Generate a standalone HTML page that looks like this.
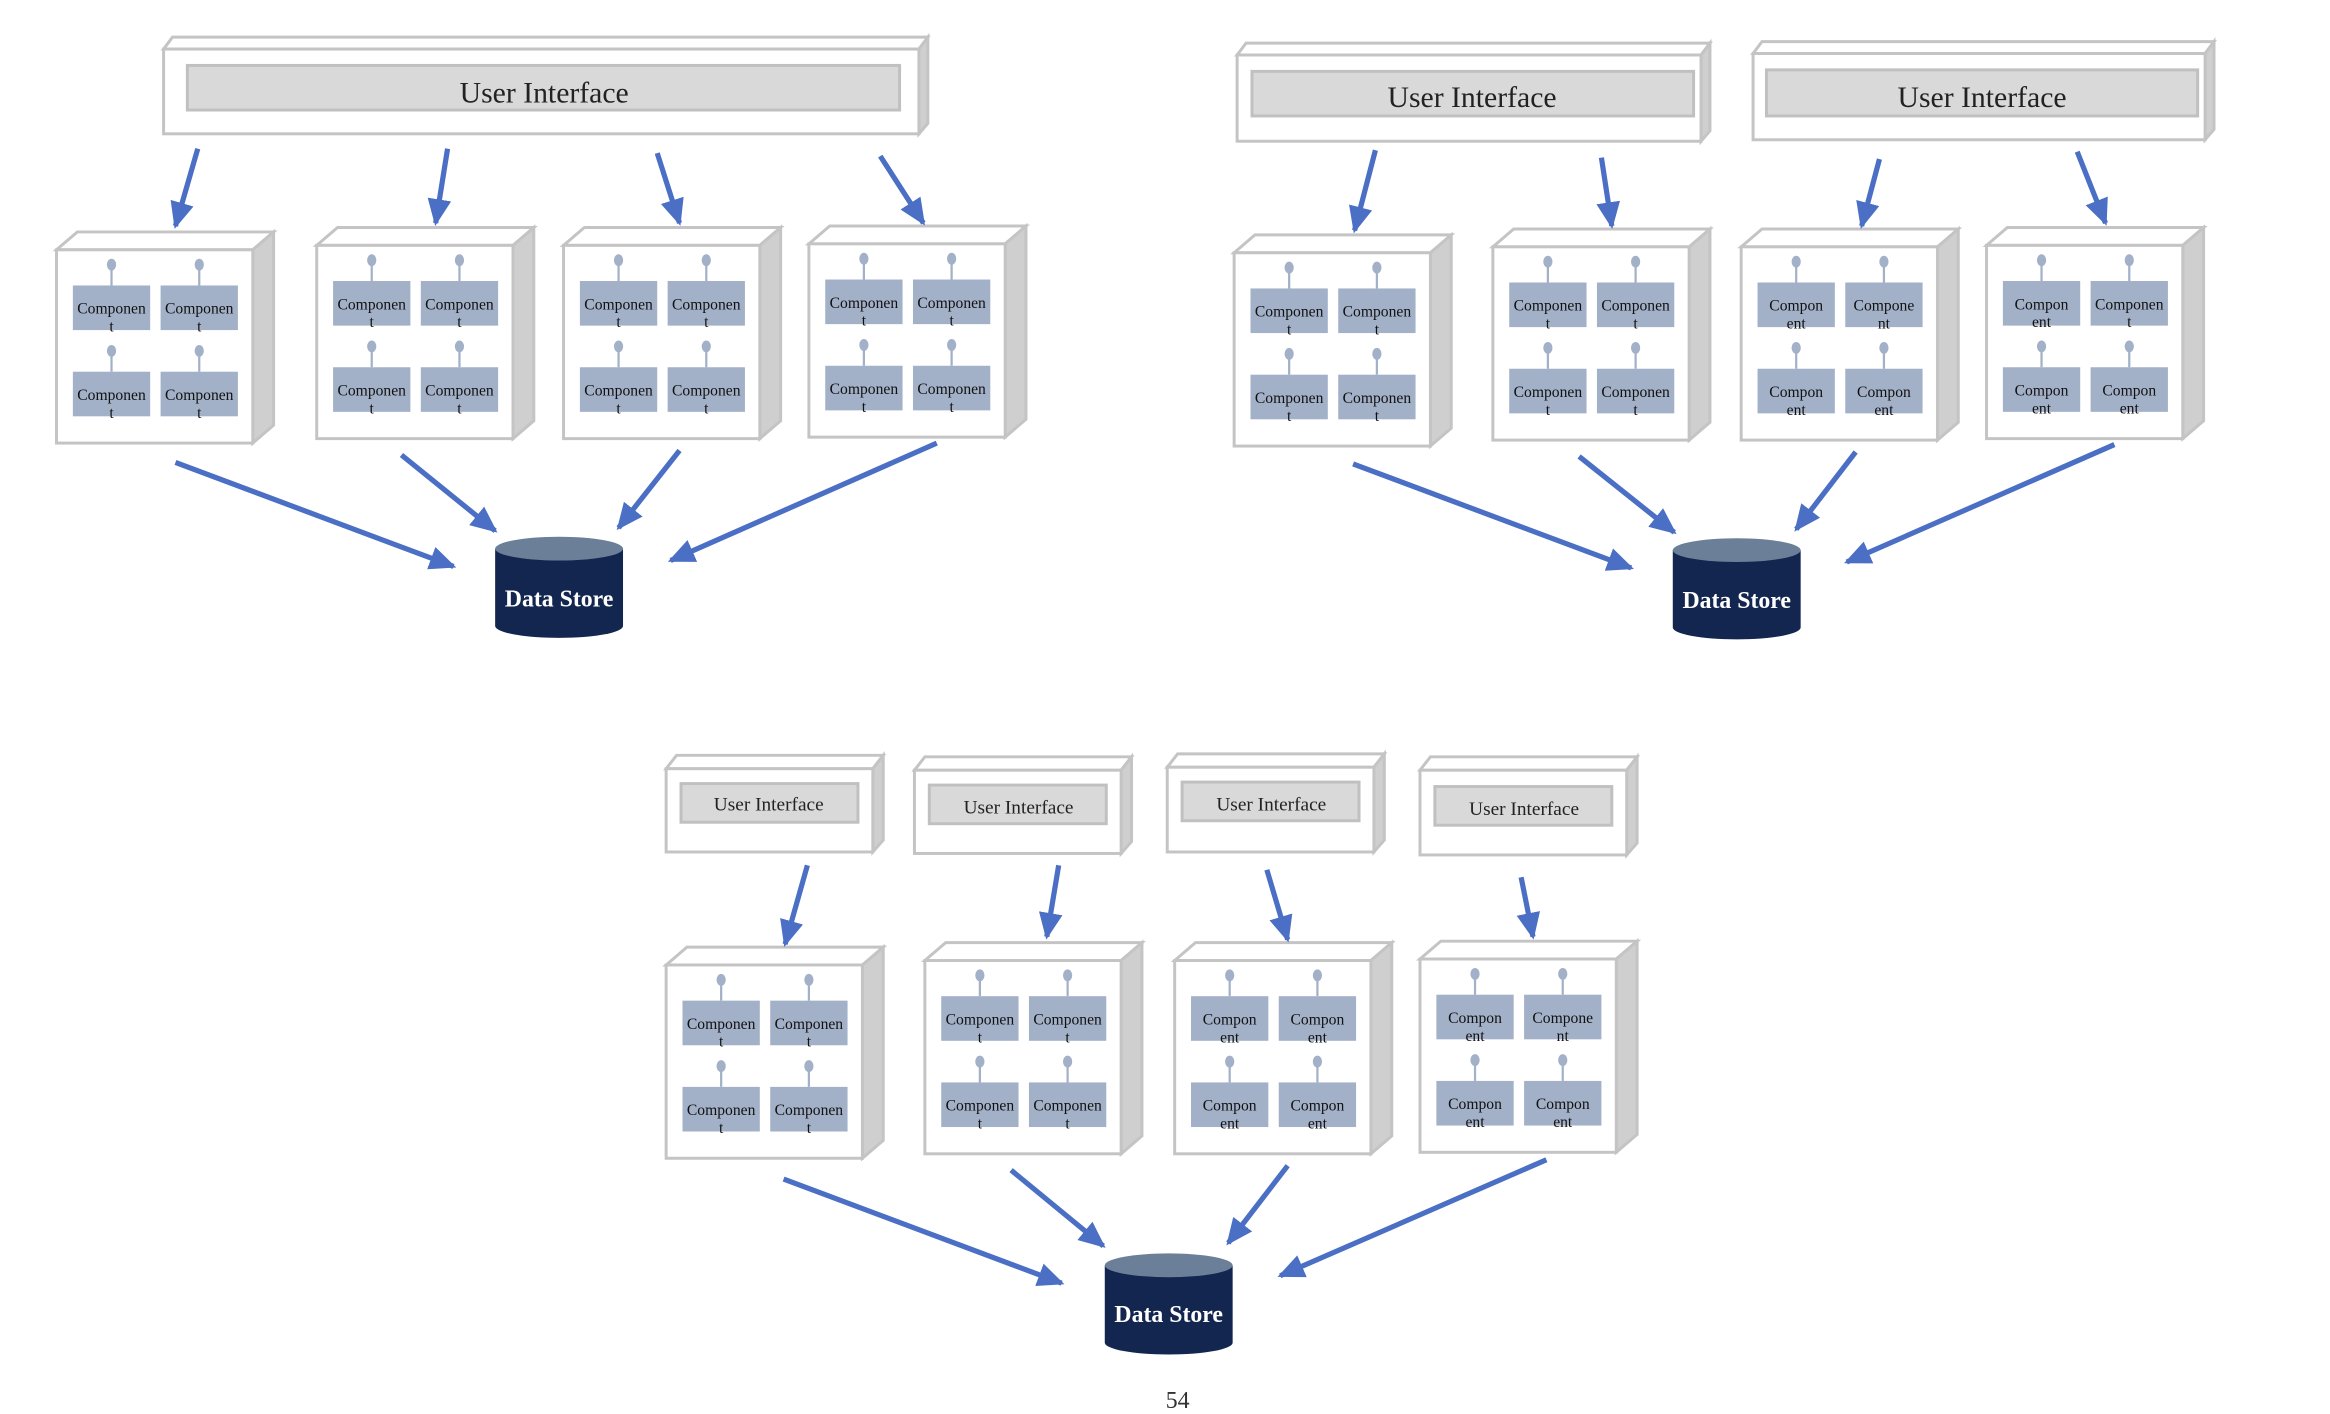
<!DOCTYPE html>
<html><head><meta charset="utf-8"><style>
html,body{margin:0;padding:0;background:#fff;width:2330px;height:1414px;overflow:hidden}
svg{display:block}
.c{font-family:"Liberation Serif",serif;font-size:10.5px;fill:#111;text-anchor:middle}
.ui{font-family:"Liberation Serif",serif;fill:#222;text-anchor:middle}
.ds{font-family:"Liberation Serif",serif;font-size:16px;font-weight:bold;fill:#fff;text-anchor:middle}
.ar{stroke:#4a6fc4;stroke-width:3.5;fill:none}
</style></head><body>
<svg width="2330" height="1414" viewBox="0 0 1567 951" preserveAspectRatio="none">
<defs>
<marker id="ah" markerUnits="userSpaceOnUse" markerWidth="20" markerHeight="18" refX="16" refY="8" orient="auto">
<path d="M0,0 L18,8 L0,16 Z" fill="#4a6fc4"/></marker>
<g id="box">
<polygon points="0,0 14,-12 146,-12 132,0" fill="#fff" stroke="#c4c4c4" stroke-width="2"/>
<polygon points="132,0 146,-12 146,118 132,130" fill="#cfcfcf" stroke="#c4c4c4" stroke-width="2"/>
<rect x="0" y="0" width="132" height="130" fill="#fff" stroke="#c4c4c4" stroke-width="2"/>
<g fill="#a3b1c8" stroke="#a3b1c8">
<rect x="11" y="24" width="52" height="30" stroke="none"/><rect x="70" y="24" width="52" height="30" stroke="none"/>
<rect x="11" y="82" width="52" height="30" stroke="none"/><rect x="70" y="82" width="52" height="30" stroke="none"/>
<line x1="37" y1="24" x2="37" y2="11" stroke-width="1.5"/><ellipse cx="37" cy="10" rx="2.6" ry="3.5"/>
<line x1="96" y1="24" x2="96" y2="11" stroke-width="1.5"/><ellipse cx="96" cy="10" rx="2.6" ry="3.5"/>
<line x1="37" y1="82" x2="37" y2="69" stroke-width="1.5"/><ellipse cx="37" cy="68" rx="2.6" ry="3.5"/>
<line x1="96" y1="82" x2="96" y2="69" stroke-width="1.5"/><ellipse cx="96" cy="68" rx="2.6" ry="3.5"/>
</g></g>
<g id="cyl">
<path d="M0,8 L0,60 A43,8 0 0 0 86,60 L86,8 Z" fill="#13264f"/>
<ellipse cx="43" cy="8" rx="43" ry="8" fill="#6b7f99"/>
</g>
</defs>

<!-- Diagram 1 -->
<polygon points="110,33 116,25 624,25 618,33" fill="#fff" stroke="#c4c4c4" stroke-width="2"/>
<polygon points="618,33 624,25 624,83 618,90" fill="#cfcfcf" stroke="#c4c4c4" stroke-width="2"/>
<rect x="110" y="33" width="508" height="57" fill="#fff" stroke="#c4c4c4" stroke-width="2"/>
<rect x="126" y="44" width="479" height="30" fill="#d9d9d9" stroke="#c0c0c0" stroke-width="2"/>
<text class="ui" x="366" y="69" font-size="20">User Interface</text>

<g transform="translate(38,168)"><use href="#box"/>
<text class="c" x="37" y="43">Componen</text><text class="c" x="37" y="55">t</text>
<text class="c" x="96" y="43">Componen</text><text class="c" x="96" y="55">t</text>
<text class="c" x="37" y="101">Componen</text><text class="c" x="37" y="113">t</text>
<text class="c" x="96" y="101">Componen</text><text class="c" x="96" y="113">t</text></g>
<g transform="translate(213,165)"><use href="#box"/>
<text class="c" x="37" y="43">Componen</text><text class="c" x="37" y="55">t</text>
<text class="c" x="96" y="43">Componen</text><text class="c" x="96" y="55">t</text>
<text class="c" x="37" y="101">Componen</text><text class="c" x="37" y="113">t</text>
<text class="c" x="96" y="101">Componen</text><text class="c" x="96" y="113">t</text></g>
<g transform="translate(379,165)"><use href="#box"/>
<text class="c" x="37" y="43">Componen</text><text class="c" x="37" y="55">t</text>
<text class="c" x="96" y="43">Componen</text><text class="c" x="96" y="55">t</text>
<text class="c" x="37" y="101">Componen</text><text class="c" x="37" y="113">t</text>
<text class="c" x="96" y="101">Componen</text><text class="c" x="96" y="113">t</text></g>
<g transform="translate(544,164)"><use href="#box"/>
<text class="c" x="37" y="43">Componen</text><text class="c" x="37" y="55">t</text>
<text class="c" x="96" y="43">Componen</text><text class="c" x="96" y="55">t</text>
<text class="c" x="37" y="101">Componen</text><text class="c" x="37" y="113">t</text>
<text class="c" x="96" y="101">Componen</text><text class="c" x="96" y="113">t</text></g>

<g transform="translate(333,361)"><use href="#cyl"/></g>
<text class="ds" x="376" y="408">Data Store</text>

<g class="ar" marker-end="url(#ah)">
<line x1="133" y1="100" x2="118" y2="152"/><line x1="301" y1="100" x2="293" y2="150"/>
<line x1="442" y1="103" x2="457" y2="150"/><line x1="592" y1="105" x2="621" y2="150"/>
<line x1="118" y1="311" x2="305" y2="381"/><line x1="270" y1="306" x2="333" y2="357"/>
<line x1="457" y1="303" x2="416" y2="355"/><line x1="630" y1="298" x2="451" y2="377"/>
</g>

<!-- Diagram 2 -->
<polygon points="832,37 838,29 1150,29 1144,37" fill="#fff" stroke="#c4c4c4" stroke-width="2"/>
<polygon points="1144,37 1150,29 1150,88 1144,95" fill="#cfcfcf" stroke="#c4c4c4" stroke-width="2"/>
<rect x="832" y="37" width="312" height="58" fill="#fff" stroke="#c4c4c4" stroke-width="2"/>
<rect x="842" y="48" width="297" height="30" fill="#d9d9d9" stroke="#c0c0c0" stroke-width="2"/>
<text class="ui" x="990" y="72" font-size="20">User Interface</text>
<polygon points="1179,36 1185,28 1489,28 1483,36" fill="#fff" stroke="#c4c4c4" stroke-width="2"/>
<polygon points="1483,36 1489,28 1489,87 1483,94" fill="#cfcfcf" stroke="#c4c4c4" stroke-width="2"/>
<rect x="1179" y="36" width="304" height="58" fill="#fff" stroke="#c4c4c4" stroke-width="2"/>
<rect x="1188" y="47" width="290" height="31" fill="#d9d9d9" stroke="#c0c0c0" stroke-width="2"/>
<text class="ui" x="1333" y="72" font-size="20">User Interface</text>

<g transform="translate(830,170)"><use href="#box"/>
<text class="c" x="37" y="43">Componen</text><text class="c" x="37" y="55">t</text>
<text class="c" x="96" y="43">Componen</text><text class="c" x="96" y="55">t</text>
<text class="c" x="37" y="101">Componen</text><text class="c" x="37" y="113">t</text>
<text class="c" x="96" y="101">Componen</text><text class="c" x="96" y="113">t</text></g>
<g transform="translate(1004,166)"><use href="#box"/>
<text class="c" x="37" y="43">Componen</text><text class="c" x="37" y="55">t</text>
<text class="c" x="96" y="43">Componen</text><text class="c" x="96" y="55">t</text>
<text class="c" x="37" y="101">Componen</text><text class="c" x="37" y="113">t</text>
<text class="c" x="96" y="101">Componen</text><text class="c" x="96" y="113">t</text></g>
<g transform="translate(1171,166)"><use href="#box"/>
<text class="c" x="37" y="43">Compon</text><text class="c" x="37" y="55">ent</text>
<text class="c" x="96" y="43">Compone</text><text class="c" x="96" y="55">nt</text>
<text class="c" x="37" y="101">Compon</text><text class="c" x="37" y="113">ent</text>
<text class="c" x="96" y="101">Compon</text><text class="c" x="96" y="113">ent</text></g>
<g transform="translate(1336,165)"><use href="#box"/>
<text class="c" x="37" y="43">Compon</text><text class="c" x="37" y="55">ent</text>
<text class="c" x="96" y="43">Componen</text><text class="c" x="96" y="55">t</text>
<text class="c" x="37" y="101">Compon</text><text class="c" x="37" y="113">ent</text>
<text class="c" x="96" y="101">Compon</text><text class="c" x="96" y="113">ent</text></g>

<g transform="translate(1125,362)"><use href="#cyl"/></g>
<text class="ds" x="1168" y="409">Data Store</text>

<g class="ar" marker-end="url(#ah)">
<line x1="925" y1="101" x2="911" y2="155"/><line x1="1077" y1="106" x2="1084" y2="152"/>
<line x1="1264" y1="107" x2="1252" y2="152"/><line x1="1397" y1="102" x2="1416" y2="150"/>
<line x1="910" y1="312" x2="1097" y2="382"/><line x1="1062" y1="307" x2="1126" y2="358"/>
<line x1="1248" y1="304" x2="1208" y2="356"/><line x1="1422" y1="299" x2="1242" y2="378"/>
</g>

<!-- Diagram 3 -->
<g>
<polygon points="448,517 455,508 594,508 587,517" fill="#fff" stroke="#c4c4c4" stroke-width="2"/>
<polygon points="587,517 594,508 594,565 587,573" fill="#cfcfcf" stroke="#c4c4c4" stroke-width="2"/>
<rect x="448" y="517" width="139" height="56" fill="#fff" stroke="#c4c4c4" stroke-width="2"/>
<rect x="458" y="527" width="119" height="26" fill="#d9d9d9" stroke="#c0c0c0" stroke-width="2"/>
<text class="ui" x="517" y="545" font-size="13">User Interface</text>

<polygon points="615,518 622,509 761,509 754,518" fill="#fff" stroke="#c4c4c4" stroke-width="2"/>
<polygon points="754,518 761,509 761,566 754,574" fill="#cfcfcf" stroke="#c4c4c4" stroke-width="2"/>
<rect x="615" y="518" width="139" height="56" fill="#fff" stroke="#c4c4c4" stroke-width="2"/>
<rect x="625" y="528" width="119" height="26" fill="#d9d9d9" stroke="#c0c0c0" stroke-width="2"/>
<text class="ui" x="685" y="547" font-size="13">User Interface</text>

<polygon points="785,516 792,507 931,507 924,516" fill="#fff" stroke="#c4c4c4" stroke-width="2"/>
<polygon points="924,516 931,507 931,565 924,573" fill="#cfcfcf" stroke="#c4c4c4" stroke-width="2"/>
<rect x="785" y="516" width="139" height="57" fill="#fff" stroke="#c4c4c4" stroke-width="2"/>
<rect x="795" y="526" width="119" height="26" fill="#d9d9d9" stroke="#c0c0c0" stroke-width="2"/>
<text class="ui" x="855" y="545" font-size="13">User Interface</text>

<polygon points="955,518 962,509 1101,509 1094,518" fill="#fff" stroke="#c4c4c4" stroke-width="2"/>
<polygon points="1094,518 1101,509 1101,567 1094,575" fill="#cfcfcf" stroke="#c4c4c4" stroke-width="2"/>
<rect x="955" y="518" width="139" height="57" fill="#fff" stroke="#c4c4c4" stroke-width="2"/>
<rect x="965" y="529" width="119" height="26" fill="#d9d9d9" stroke="#c0c0c0" stroke-width="2"/>
<text class="ui" x="1025" y="548" font-size="13">User Interface</text>
</g>

<g transform="translate(448,649)"><use href="#box"/>
<text class="c" x="37" y="43">Componen</text><text class="c" x="37" y="55">t</text>
<text class="c" x="96" y="43">Componen</text><text class="c" x="96" y="55">t</text>
<text class="c" x="37" y="101">Componen</text><text class="c" x="37" y="113">t</text>
<text class="c" x="96" y="101">Componen</text><text class="c" x="96" y="113">t</text></g>
<g transform="translate(622,646)"><use href="#box"/>
<text class="c" x="37" y="43">Componen</text><text class="c" x="37" y="55">t</text>
<text class="c" x="96" y="43">Componen</text><text class="c" x="96" y="55">t</text>
<text class="c" x="37" y="101">Componen</text><text class="c" x="37" y="113">t</text>
<text class="c" x="96" y="101">Componen</text><text class="c" x="96" y="113">t</text></g>
<g transform="translate(790,646)"><use href="#box"/>
<text class="c" x="37" y="43">Compon</text><text class="c" x="37" y="55">ent</text>
<text class="c" x="96" y="43">Compon</text><text class="c" x="96" y="55">ent</text>
<text class="c" x="37" y="101">Compon</text><text class="c" x="37" y="113">ent</text>
<text class="c" x="96" y="101">Compon</text><text class="c" x="96" y="113">ent</text></g>
<g transform="translate(955,645)"><use href="#box"/>
<text class="c" x="37" y="43">Compon</text><text class="c" x="37" y="55">ent</text>
<text class="c" x="96" y="43">Compone</text><text class="c" x="96" y="55">nt</text>
<text class="c" x="37" y="101">Compon</text><text class="c" x="37" y="113">ent</text>
<text class="c" x="96" y="101">Compon</text><text class="c" x="96" y="113">ent</text></g>

<g transform="translate(743,843)"><use href="#cyl"/></g>
<text class="ds" x="786" y="889">Data Store</text>

<g class="ar" marker-end="url(#ah)">
<line x1="543" y1="582" x2="528" y2="635"/><line x1="712" y1="582" x2="704" y2="630"/>
<line x1="852" y1="585" x2="866" y2="632"/><line x1="1023" y1="590" x2="1031" y2="630"/>
<line x1="527" y1="793" x2="714" y2="863"/><line x1="680" y1="787" x2="742" y2="838"/>
<line x1="866" y1="784" x2="826" y2="836"/><line x1="1040" y1="780" x2="861" y2="858"/>
</g>

<text x="792" y="947" font-family="Liberation Serif, serif" font-size="16" fill="#333" text-anchor="middle">54</text>
</svg>
</body></html>
